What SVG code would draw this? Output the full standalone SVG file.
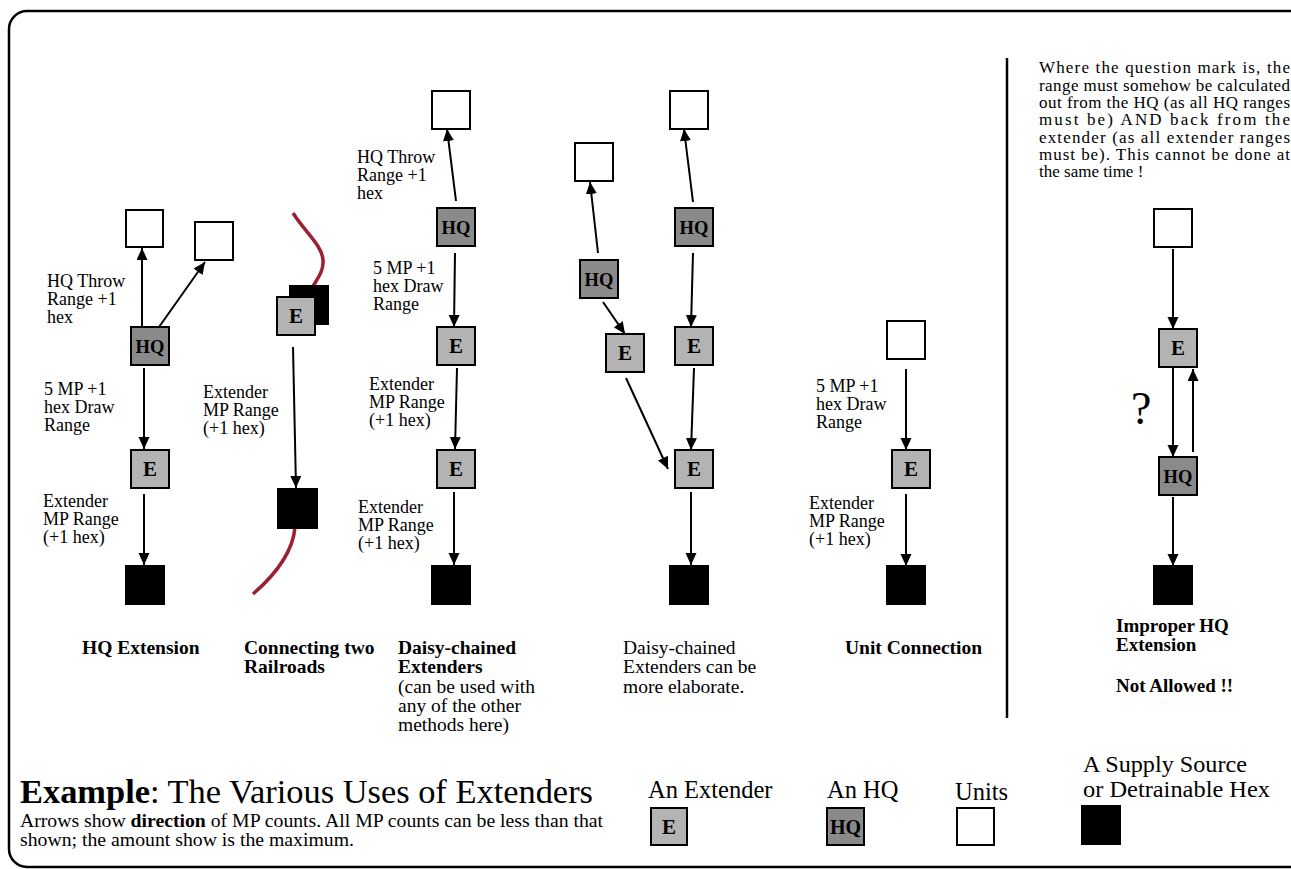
<svg xmlns="http://www.w3.org/2000/svg" width="1291" height="869" viewBox="0 0 1291 869">
<defs>
<marker id="ah" markerUnits="userSpaceOnUse" markerWidth="13" markerHeight="12" refX="12" refY="5.5" orient="auto">
<path d="M0,0 L12,5.5 L0,11 z" fill="#000"/>
</marker>
<style>
text{font-family:"Liberation Serif","Times New Roman",serif;fill:#000}
.lbl{font-size:18px}
.cap{font-size:19.5px}
.b{font-weight:bold}
.par{font-size:17px}
.leg{font-size:24.5px}
.box{stroke:#000;stroke-width:2}
.u{fill:#fff}
.e{fill:#b3b3b3}
.hq{fill:#8a8a8a}
.s{fill:#000}
.et{font-size:21px;font-weight:bold;text-anchor:middle}
.ht{font-size:18.5px;font-weight:bold;text-anchor:middle}
.c line{stroke:#000;stroke-width:2;marker-end:url(#ah)}
.rail{fill:none;stroke:#9a2032;stroke-width:3.5}
</style>
</defs>
<rect x="9" y="11" width="1300" height="856" rx="18" fill="#fff" stroke="#000" stroke-width="2.5"/>
<line x1="1007" y1="58" x2="1007" y2="718" stroke="#000" stroke-width="2.5"/>

<!-- railroads -->
<path class="rail" d="M293,213 C305,232 322,245 323,260 C324,272 316,280 311,290"/>
<path class="rail" d="M295,527 C293,552 275,575 253,594"/>

<!-- HQ Extension -->
<g id="hqext-unit1"><rect class="box u" x="126" y="210" width="37" height="37"/></g>
<g id="hqext-unit2"><rect class="box u" x="195" y="222" width="38" height="38"/></g>
<g id="hqext-hq"><rect class="box hq" x="131" y="327" width="38" height="38"/><text class="ht" x="150" y="353">HQ</text></g>
<g id="hqext-e"><rect class="box e" x="131" y="450" width="38" height="38"/><text class="et" x="150" y="476">E</text></g>
<g id="hqext-src"><rect class="box s" x="126" y="566" width="38" height="38"/></g>

<!-- Connecting two railroads -->
<g id="rail-src1"><rect class="box s" x="290" y="286" width="38" height="38"/></g>
<g id="rail-e"><rect class="box e" x="277" y="297" width="38" height="38"/><text class="et" x="296" y="323">E</text></g>
<g id="rail-src2"><rect class="box s" x="278" y="489" width="39" height="39"/></g>

<!-- Daisy-chained -->
<g id="daisy-unit"><rect class="box u" x="432" y="91" width="38" height="38"/></g>
<g id="daisy-hq"><rect class="box hq" x="437" y="208" width="38" height="38"/><text class="ht" x="456" y="234">HQ</text></g>
<g id="daisy-e1"><rect class="box e" x="437" y="327" width="38" height="38"/><text class="et" x="456" y="353">E</text></g>
<g id="daisy-e2"><rect class="box e" x="437" y="450" width="38" height="38"/><text class="et" x="456" y="476">E</text></g>
<g id="daisy-src"><rect class="box s" x="432" y="566" width="38" height="38"/></g>

<!-- Elaborate -->
<g id="elab-unitL"><rect class="box u" x="575" y="143" width="38" height="38"/></g>
<g id="elab-unitR"><rect class="box u" x="670" y="91" width="38" height="38"/></g>
<g id="elab-hqL"><rect class="box hq" x="580" y="260" width="38" height="38"/><text class="ht" x="599" y="286">HQ</text></g>
<g id="elab-hqR"><rect class="box hq" x="675" y="208" width="38" height="38"/><text class="ht" x="694" y="234">HQ</text></g>
<g id="elab-eL"><rect class="box e" x="606" y="334" width="38" height="38"/><text class="et" x="625" y="360">E</text></g>
<g id="elab-eR"><rect class="box e" x="675" y="327" width="38" height="38"/><text class="et" x="694" y="353">E</text></g>
<g id="elab-eB"><rect class="box e" x="675" y="450" width="38" height="38"/><text class="et" x="694" y="476">E</text></g>
<g id="elab-src"><rect class="box s" x="670" y="566" width="38" height="38"/></g>

<!-- Unit connection -->
<g id="uc-unit"><rect class="box u" x="887" y="321" width="38" height="38"/></g>
<g id="uc-e"><rect class="box e" x="892" y="450" width="38" height="38"/><text class="et" x="911" y="476">E</text></g>
<g id="uc-src"><rect class="box s" x="887" y="566" width="38" height="38"/></g>

<!-- Improper -->
<g id="imp-unit"><rect class="box u" x="1154" y="209" width="38" height="38"/></g>
<g id="imp-e"><rect class="box e" x="1159" y="329" width="38" height="38"/><text class="et" x="1178" y="355">E</text></g>
<g id="imp-hq"><rect class="box hq" x="1159" y="457" width="38" height="38"/><text class="ht" x="1178" y="483">HQ</text></g>
<g id="imp-src"><rect class="box s" x="1154" y="566" width="38" height="38"/></g>

<!-- connectors -->
<g class="c" id="connectors">
<line x1="142" y1="327" x2="142" y2="248"/>
<line x1="159" y1="327" x2="205" y2="262"/>
<line x1="144" y1="368" x2="144" y2="449"/>
<line x1="144" y1="494" x2="144" y2="565"/>
<line x1="293" y1="347" x2="296" y2="488"/>
<line x1="456" y1="201" x2="447" y2="129"/>
<line x1="455" y1="253" x2="454" y2="327"/>
<line x1="457" y1="368" x2="455" y2="449"/>
<line x1="454" y1="492" x2="454" y2="565"/>
<line x1="598" y1="253" x2="590" y2="182"/>
<line x1="693" y1="202" x2="684" y2="129"/>
<line x1="603" y1="302" x2="625" y2="334"/>
<line x1="693" y1="253" x2="691" y2="327"/>
<line x1="694" y1="368" x2="691" y2="450"/>
<line x1="626" y1="378" x2="668" y2="469"/>
<line x1="691" y1="492" x2="691" y2="565"/>
<line x1="906" y1="369" x2="906" y2="450"/>
<line x1="906" y1="494" x2="906" y2="566"/>
<line x1="1173" y1="249" x2="1173" y2="329"/>
<line x1="1173" y1="368" x2="1173" y2="457"/>
<line x1="1193" y1="452" x2="1193" y2="369"/>
<line x1="1173" y1="497" x2="1173" y2="566"/>
</g>

<!-- labels -->
<g class="lbl">
<text x="47" y="287">HQ Throw</text><text x="47" y="305">Range +1</text><text x="47" y="323">hex</text>
<text x="44" y="395">5 MP +1</text><text x="44" y="413">hex Draw</text><text x="44" y="431">Range</text>
<text x="43" y="507">Extender</text><text x="43" y="525">MP Range</text><text x="43" y="543">(+1 hex)</text>
<text x="203" y="398">Extender</text><text x="203" y="416">MP Range</text><text x="203" y="434">(+1 hex)</text>
<text x="357" y="163">HQ Throw</text><text x="357" y="181">Range +1</text><text x="357" y="199">hex</text>
<text x="373" y="274">5 MP +1</text><text x="373" y="292">hex Draw</text><text x="373" y="310">Range</text>
<text x="369" y="390">Extender</text><text x="369" y="408">MP Range</text><text x="369" y="426">(+1 hex)</text>
<text x="358" y="513">Extender</text><text x="358" y="531">MP Range</text><text x="358" y="549">(+1 hex)</text>
<text x="816" y="392">5 MP +1</text><text x="816" y="410">hex Draw</text><text x="816" y="428">Range</text>
<text x="809" y="509">Extender</text><text x="809" y="527">MP Range</text><text x="809" y="545">(+1 hex)</text>
</g>
<text x="1131" y="424" font-size="46">?</text>

<g class="par">
<text x="1039" y="73" textLength="251" lengthAdjust="spacing">Where the question mark is, the</text>
<text x="1039" y="91" textLength="251" lengthAdjust="spacing">range must somehow be calculated</text>
<text x="1039" y="108" textLength="251" lengthAdjust="spacing">out from the HQ (as all HQ ranges</text>
<text x="1039" y="125" textLength="251" lengthAdjust="spacing">must be) AND back from the</text>
<text x="1039" y="143" textLength="251" lengthAdjust="spacing">extender (as all extender ranges</text>
<text x="1039" y="160" textLength="251" lengthAdjust="spacing">must be). This cannot be done at</text>
<text x="1039" y="177">the same time !</text>
</g>

<!-- captions -->
<g class="cap">
<text x="82" y="654" class="b">HQ Extension</text>
<text x="244" y="654" class="b">Connecting two</text><text x="244" y="673" class="b">Railroads</text>
<text x="398" y="654" class="b">Daisy-chained</text><text x="398" y="673" class="b">Extenders</text>
<text x="398" y="693">(can be used with</text><text x="398" y="712">any of the other</text><text x="398" y="731">methods here)</text>
<text x="623" y="654">Daisy-chained</text><text x="623" y="673">Extenders can be</text><text x="623" y="693">more elaborate.</text>
<text x="845" y="654" class="b">Unit Connection</text>
</g>
<g font-size="19" font-weight="bold">
<text x="1116" y="632">Improper HQ</text><text x="1116" y="651">Extension</text>
<text x="1116" y="692">Not Allowed !!</text>
</g>

<!-- title & legend -->
<text x="20" y="803" font-size="33" textLength="573" lengthAdjust="spacingAndGlyphs"><tspan font-weight="bold">Example</tspan>: The Various Uses of Extenders</text>
<text x="20" y="827" font-size="18" textLength="583" lengthAdjust="spacingAndGlyphs">Arrows show <tspan font-weight="bold">direction</tspan> of MP counts. All MP counts can be less than that</text>
<text x="20" y="846" font-size="18" textLength="334" lengthAdjust="spacingAndGlyphs">shown; the amount show is the maximum.</text>

<g id="legend-e"><text class="leg" x="648" y="798">An Extender</text><rect class="box e" x="651" y="808" width="36" height="37"/><text class="et" x="669" y="834">E</text></g>
<g id="legend-hq"><text class="leg" x="827" y="798">An HQ</text><rect class="box hq" x="827" y="808" width="37" height="37"/><text x="845.5" y="834" font-size="20" font-weight="bold" text-anchor="middle">HQ</text></g>
<g id="legend-unit"><text class="leg" x="955" y="800">Units</text><rect class="box u" x="957" y="808" width="37" height="37"/></g>
<g id="legend-src" font-size="23.5"><text x="1083" y="772" textLength="164" lengthAdjust="spacingAndGlyphs">A Supply Source</text><text x="1083" y="797" textLength="187" lengthAdjust="spacingAndGlyphs">or Detrainable Hex</text><rect class="box s" x="1082" y="806" width="38" height="38"/></g>
</svg>
